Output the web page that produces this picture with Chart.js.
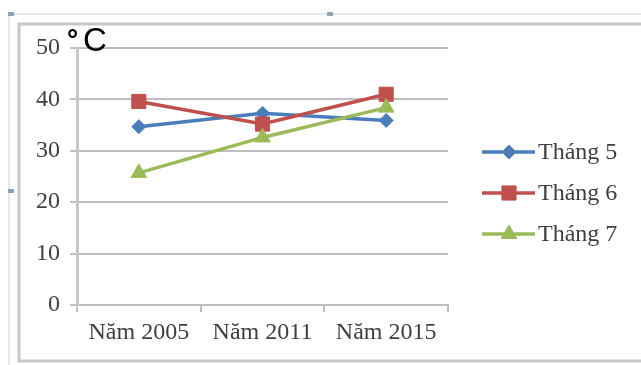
<!DOCTYPE html>
<html>
<head>
<meta charset="utf-8">
<script src="https://cdn.jsdelivr.net/npm/chart.js@4.4.1/dist/chart.umd.min.js"></script>
<style>
html,body{margin:0;padding:0;background:#fff;}
#wrap{position:relative;width:641px;height:365px;}
</style>
</head>
<body>
<div id="wrap"><canvas id="c" width="641" height="365"></canvas></div>
<script>
const categories = ["Năm 2005", "Năm 2011", "Năm 2015"];
const seriesNames = ["Tháng 5", "Tháng 6", "Tháng 7"];
const thang5 = [34.7, 37.3, 35.9];
const thang6 = [39.6, 35.2, 41.0];
const thang7 = [25.7, 32.6, 38.4];
const unitDegree = "°";
const unitLetter = "C";

const colors = ["#4a7ebb", "#c0504d", "#9bbb59"];
const styles = ["rectRot", "rect", "triangle"];
const radii = [7, 10, 9];
const values = [thang5, thang6, thang7];

const datasets = seriesNames.map((n, i) => ({
  label: n,
  data: values[i],
  borderColor: colors[i],
  backgroundColor: colors[i],
  borderWidth: 3.5,
  pointStyle: styles[i],
  pointRadius: radii[i],
  pointBorderWidth: 1,
  pointBackgroundColor: colors[i],
  pointBorderColor: colors[i],
  tension: 0,
  order: 3 - i
}));

const decor = {
  id: 'decor',
  beforeDraw(chart) {
    const ctx = chart.ctx;
    ctx.save();
    ctx.strokeStyle = '#e2e8f0';
    ctx.lineWidth = 2;
    ctx.strokeRect(9, 14, 700, 400);
    ctx.strokeStyle = '#c8c8c8';
    ctx.lineWidth = 3;
    ctx.strokeRect(19, 24, 700, 337);
    ctx.fillStyle = '#8ea2bc';
    ctx.fillRect(8, 12, 6, 4);
    ctx.fillRect(327, 12, 6, 4);
    ctx.fillRect(8, 189, 6, 4);
    ctx.restore();
  },
  afterDraw(chart) {
    const ctx = chart.ctx;
    ctx.save();
    ctx.fillStyle = '#000';
    ctx.textBaseline = 'alphabetic';
    ctx.textAlign = 'left';
    ctx.font = 'bold 28px "Liberation Sans"';
    ctx.fillText(unitDegree, 67, 49);
    ctx.font = '33px "Liberation Sans"';
    ctx.fillText(unitLetter, 83, 51);
    // legend
    chart.data.datasets.forEach((ds, i) => {
      const y = 152 + i * 41;
      ctx.strokeStyle = ds.borderColor;
      ctx.lineWidth = 3.5;
      ctx.beginPath();
      ctx.moveTo(482, y);
      ctx.lineTo(535, y);
      ctx.stroke();
      ctx.fillStyle = ds.borderColor;
      ctx.strokeStyle = ds.borderColor;
      ctx.lineWidth = 1;
      Chart.helpers.drawPoint(ctx, {pointStyle: ds.pointStyle, radius: ds.pointRadius, rotation: 0, borderWidth: 1}, 509, y);
      ctx.fillStyle = '#3f3f3f';
      ctx.font = '24px "Liberation Serif"';
      ctx.textBaseline = 'middle';
      ctx.fillText(ds.label, 538, y + 1);
    });
    ctx.restore();
  }
};

new Chart(document.getElementById('c'), {
  type: 'line',
  data: { labels: categories, datasets },
  plugins: [decor],
  options: {
    responsive: false,
    animation: false,
    devicePixelRatio: 1,
    layout: { padding: { left: 0, top: 48, right: 193, bottom: 0 } },
    plugins: { legend: { display: false }, tooltip: { enabled: false } },
    scales: {
      x: {
        offset: true,
        afterFit(s) { s.height = 60; },
        grid: { display: true, drawOnChartArea: false, offset: true, tickLength: 7, color: '#bfbfbf', lineWidth: 2 },
        border: { display: true, color: '#bfbfbf', width: 2 },
        ticks: { color: '#3f3f3f', font: { family: 'Liberation Serif', size: 24 }, padding: 6, maxRotation: 0, autoSkip: false }
      },
      y: {
        min: 0, max: 50,
        afterFit(s) { s.width = 77; },
        grid: { color: '#bfbfbf', lineWidth: 2, tickLength: 7 },
        border: { display: true, color: '#c8c8c8', width: 3 },
        ticks: { stepSize: 10, color: '#3f3f3f', font: { family: 'Liberation Serif', size: 24 }, padding: 10 }
      }
    }
  }
});
</script>
</body>
</html>
